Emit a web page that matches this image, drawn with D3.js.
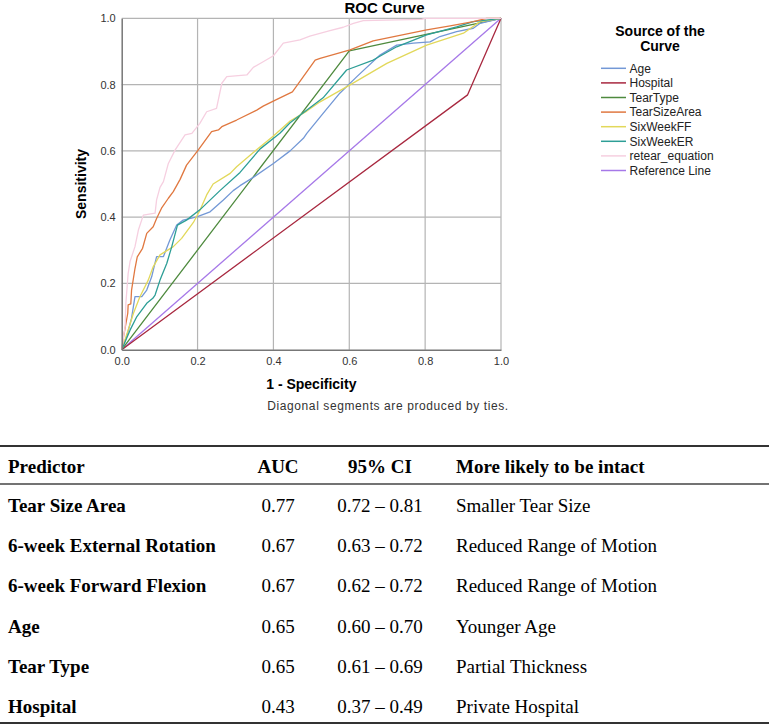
<!DOCTYPE html>
<html>
<head>
<meta charset="utf-8">
<script src="https://cdn.jsdelivr.net/npm/d3@7"></script>
<style>
  html, body { margin: 0; padding: 0; background: #fff; }
  svg { display: block; }
</style>
</head>
<body>
<svg id="chart" width="769" height="726"></svg>
<script>
// ---------------- DATA ----------------
const ticks = [0.0, 0.2, 0.4, 0.6, 0.8, 1.0];

const ageCurve = [[0,0],[0.013,0.039],[0.026,0.095],[0.035,0.16],[0.053,0.16],[0.066,0.18],[0.079,0.22],[0.092,0.281],[0.11,0.281],[0.127,0.331],[0.145,0.376],[0.162,0.391],[0.198,0.401],[0.233,0.416],[0.268,0.452],[0.294,0.48],[0.312,0.495],[0.347,0.52],[0.4,0.562],[0.444,0.6],[0.479,0.638],[0.488,0.653],[0.531,0.713],[0.575,0.774],[0.62,0.824],[0.681,0.889],[0.725,0.919],[0.769,0.925],[0.813,0.929],[0.839,0.945],[0.883,0.96],[0.927,0.97],[0.945,0.985],[1,1]];
const hospitalCurve = [[0,0],[0.912,0.769],[1,1]];
const tearTypeCurve = [[0,0],[0.6,0.902],[1,1]];
const tearSizeAreaCurve = [[0,0],[0.005,0.04],[0.016,0.11],[0.017,0.135],[0.024,0.138],[0.026,0.18],[0.035,0.245],[0.041,0.28],[0.055,0.306],[0.066,0.351],[0.083,0.371],[0.092,0.396],[0.105,0.427],[0.123,0.457],[0.136,0.477],[0.154,0.514],[0.171,0.557],[0.202,0.603],[0.237,0.658],[0.255,0.663],[0.264,0.673],[0.303,0.693],[0.356,0.723],[0.373,0.735],[0.405,0.753],[0.45,0.778],[0.461,0.795],[0.51,0.874],[0.523,0.879],[0.602,0.905],[0.663,0.932],[0.804,0.965],[0.866,0.977],[0.927,0.99],[0.962,1],[1,1]];
const sixWeekFFCurve = [[0,0],[0.017,0.059],[0.031,0.11],[0.048,0.16],[0.07,0.21],[0.083,0.25],[0.101,0.286],[0.136,0.311],[0.158,0.336],[0.189,0.384],[0.206,0.42],[0.224,0.467],[0.241,0.5],[0.286,0.532],[0.303,0.552],[0.347,0.595],[0.4,0.645],[0.444,0.69],[0.488,0.72],[0.523,0.748],[0.602,0.799],[0.699,0.864],[0.804,0.919],[0.901,0.955],[0.945,0.99],[1,1]];
const sixWeekERCurve = [[0,0],[0.022,0.059],[0.04,0.1],[0.066,0.14],[0.082,0.155],[0.088,0.165],[0.101,0.21],[0.119,0.261],[0.132,0.311],[0.147,0.376],[0.171,0.391],[0.206,0.422],[0.259,0.48],[0.312,0.535],[0.365,0.606],[0.417,0.653],[0.444,0.685],[0.531,0.76],[0.593,0.844],[0.663,0.874],[0.725,0.914],[0.804,0.95],[0.883,0.974],[0.927,0.99],[1,1]];
const retearCurve = [[0,0],[0.005,0.04],[0.009,0.07],[0.011,0.14],[0.017,0.23],[0.022,0.266],[0.035,0.311],[0.044,0.361],[0.057,0.406],[0.088,0.412],[0.092,0.452],[0.101,0.49],[0.11,0.507],[0.123,0.562],[0.141,0.603],[0.167,0.648],[0.185,0.653],[0.206,0.683],[0.224,0.718],[0.25,0.728],[0.264,0.804],[0.277,0.824],[0.33,0.829],[0.347,0.852],[0.373,0.869],[0.4,0.887],[0.426,0.925],[0.47,0.935],[0.496,0.946],[0.549,0.963],[0.584,0.973],[0.611,0.985],[0.637,0.993],[0.791,0.997],[0.8,1],[1,1]];
const referenceCurve = [[0,0],[1,1]];

const seriesNames = ["Age","Hospital","TearType","TearSizeArea","SixWeekFF","SixWeekER","retear_equation","Reference Line"];
const seriesColors = ["#7398d6","#a8283f","#4e8a3e","#e07840","#e2d85a","#2d9e96","#f6cfe0","#a678e8"];
const seriesData = [ageCurve, hospitalCurve, tearTypeCurve, tearSizeAreaCurve, sixWeekFFCurve, sixWeekERCurve, retearCurve, referenceCurve];

const tablePredictors = ["Tear Size Area","6-week External Rotation","6-week Forward Flexion","Age","Tear Type","Hospital"];
const tableAUC = ["0.77","0.67","0.67","0.65","0.65","0.43"];
const tableCI = ["0.72 \u2013 0.81","0.63 \u2013 0.72","0.62 \u2013 0.72","0.60 \u2013 0.70","0.61 \u2013 0.69","0.37 \u2013 0.49"];
const tableIntact = ["Smaller Tear Size","Reduced Range of Motion","Reduced Range of Motion","Younger Age","Partial Thickness","Private Hospital"];
const tableHeaders = ["Predictor","AUC","95% CI","More likely to be intact"];

// ---------------- CHART ----------------
const svg = d3.select("#chart");
const sans = "'Liberation Sans', Arial, sans-serif";
const serif = "'Liberation Serif', 'Times New Roman', serif";

const x = d3.scaleLinear().domain([0,1]).range([121.7, 501]);
const y = d3.scaleLinear().domain([0,1]).range([349.7, 18.3]);

const plot = svg.append("g");

// grid
plot.selectAll(".vg").data(ticks.filter(t => t > 0)).join("line")
  .attr("x1", d => x(d)).attr("x2", d => x(d))
  .attr("y1", y(0)).attr("y2", y(1))
  .attr("stroke", "#b4b4b4").attr("stroke-width", 1.2);
plot.selectAll(".hg").data(ticks.filter(t => t > 0)).join("line")
  .attr("x1", x(0)).attr("x2", x(1))
  .attr("y1", d => y(d)).attr("y2", d => y(d))
  .attr("stroke", "#b4b4b4").attr("stroke-width", 1.2);

// axes
const xAxis = d3.axisBottom(x).tickValues(ticks).tickFormat(d3.format(".1f")).tickSize(0).tickPadding(8);
const yAxis = d3.axisLeft(y).tickValues(ticks).tickFormat(d3.format(".1f")).tickSize(0).tickPadding(6);
const gx = svg.append("g").attr("transform", `translate(0,${y(0)})`).call(xAxis);
const gy = svg.append("g").attr("transform", `translate(${x(0)},0)`).call(yAxis);
[gx, gy].forEach(g => {
  g.select(".domain").attr("stroke", "#777").attr("stroke-width", 1.5);
  g.selectAll("text").attr("font-family", sans).attr("font-size", 11).attr("fill", "#333");
});

// curves
const line = d3.line().x(d => x(d[0])).y(d => y(d[1]));
const drawOrder = [7, 1, 2, 0, 4, 5, 3, 6];
plot.selectAll(".curve").data(drawOrder).join("path")
  .attr("d", i => line(seriesData[i]))
  .attr("fill", "none")
  .attr("stroke", i => seriesColors[i])
  .attr("stroke-width", 1.3)
  .attr("stroke-linejoin", "round");

// titles
svg.append("text").attr("x", 384.5).attr("y", 13).attr("text-anchor", "middle")
  .attr("font-family", sans).attr("font-weight", "bold").attr("font-size", 15).text("ROC Curve");
svg.append("text").attr("transform", `translate(86,${(y(0)+y(1))/2}) rotate(-90)`).attr("text-anchor", "middle")
  .attr("font-family", sans).attr("font-weight", "bold").attr("font-size", 14).text("Sensitivity");
svg.append("text").attr("x", (x(0)+x(1))/2).attr("y", 389).attr("text-anchor", "middle")
  .attr("font-family", sans).attr("font-weight", "bold").attr("font-size", 14).text("1 - Specificity");
svg.append("text").attr("x", 388).attr("y", 410).attr("text-anchor", "middle")
  .attr("font-family", sans).attr("font-size", 12).attr("fill", "#333").attr("letter-spacing", 0.6)
  .text("Diagonal segments are produced by ties.");

// legend
const lg = svg.append("g");
lg.append("text").attr("x", 660).attr("y", 36).attr("text-anchor", "middle")
  .attr("font-family", sans).attr("font-weight", "bold").attr("font-size", 14).text("Source of the");
lg.append("text").attr("x", 660).attr("y", 51).attr("text-anchor", "middle")
  .attr("font-family", sans).attr("font-weight", "bold").attr("font-size", 14).text("Curve");
const items = lg.selectAll(".item").data(seriesNames).join("g")
  .attr("transform", (d, i) => `translate(0,${68.3 + i * 14.6})`);
items.append("line").attr("x1", 601).attr("x2", 626).attr("y1", 0).attr("y2", 0)
  .attr("stroke", (d, i) => seriesColors[i]).attr("stroke-width", 1.5);
items.append("text").attr("x", 629.5).attr("y", 4.3)
  .attr("font-family", sans).attr("font-size", 12).attr("fill", "#222").text(d => d);

// ---------------- TABLE ----------------
const tg = svg.append("g").attr("font-family", serif).attr("fill", "#000");
tg.append("line").attr("x1", 0).attr("x2", 769).attr("y1", 446).attr("y2", 446).attr("stroke", "#333").attr("stroke-width", 2);
tg.append("line").attr("x1", 0).attr("x2", 769).attr("y1", 484).attr("y2", 484).attr("stroke", "#444").attr("stroke-width", 1.5);
tg.append("line").attr("x1", 0).attr("x2", 769).attr("y1", 723).attr("y2", 723).attr("stroke", "#333").attr("stroke-width", 2);

const colX = [8, 278, 380, 456];
const colAnchor = ["start", "middle", "middle", "start"];
tg.selectAll(".hdr").data(tableHeaders).join("text")
  .attr("x", (d, i) => colX[i]).attr("y", 473).attr("text-anchor", (d, i) => colAnchor[i])
  .attr("font-weight", "bold").attr("font-size", 19).text(d => d);

const rowY = i => 512 + i * 40.2;
const rows = tg.selectAll(".row").data(tablePredictors).join("g");
rows.append("text").attr("x", colX[0]).attr("y", (d, i) => rowY(i)).attr("font-weight", "bold").attr("font-size", 19).text(d => d);
rows.append("text").attr("x", colX[1]).attr("y", (d, i) => rowY(i)).attr("text-anchor", "middle").attr("font-size", 19).text((d, i) => tableAUC[i]);
rows.append("text").attr("x", colX[2]).attr("y", (d, i) => rowY(i)).attr("text-anchor", "middle").attr("font-size", 19).text((d, i) => tableCI[i]);
rows.append("text").attr("x", colX[3]).attr("y", (d, i) => rowY(i)).attr("font-size", 19).text((d, i) => tableIntact[i]);
</script>
</body>
</html>
